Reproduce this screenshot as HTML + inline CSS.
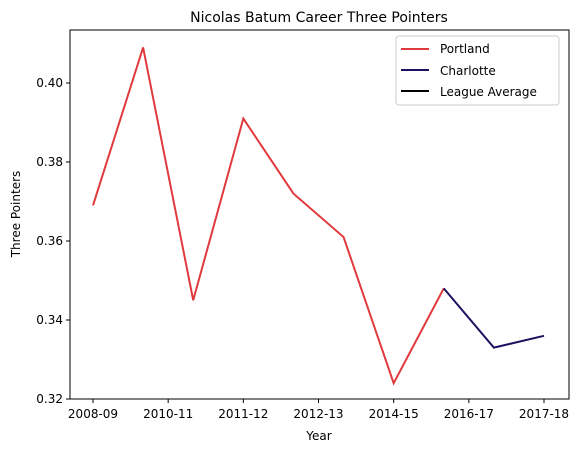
<!DOCTYPE html>
<html><head><meta charset="utf-8"><style>
body{margin:0;background:#fff;font-family:"Liberation Sans","DejaVu Sans",sans-serif;}
svg text{font-family:"DejaVu Sans","Liberation Sans",sans-serif;}
</style></head><body>
<svg id="chart" width="582" height="453" xmlns="http://www.w3.org/2000/svg">
<text x="319" y="22" font-size="14" text-anchor="middle">Nicolas Batum Career Three Pointers</text>
<g id="plot"></g>
<rect x="70" y="30" width="499" height="369" fill="none" stroke="#000" stroke-width="1"/>
<text x="319" y="440" font-size="12" text-anchor="middle">Year</text>
<text x="20" y="214" font-size="12" text-anchor="middle" transform="rotate(-90 20 214)">Three Pointers</text>
<g>
<rect x="396" y="36" width="163" height="69" fill="#fff" stroke="#ccc" rx="3"/>
<line x1="401" y1="49" x2="429" y2="49" stroke="#e03a3e" stroke-width="2"/>
<text x="440" y="53" font-size="12">Portland</text>
<line x1="401" y1="70" x2="429" y2="70" stroke="#1d1160" stroke-width="2"/>
<text x="440" y="75" font-size="12">Charlotte</text>
<line x1="401" y1="91" x2="429" y2="91" stroke="#000" stroke-width="2"/>
<text x="440" y="96" font-size="12">League Average</text>
</g>
</svg>
<script>
const seasons=["2008-09","2009-10","2010-11","2011-12","2012-13","2013-14","2014-15","2015-16","2016-17","2017-18"];
const portland=[0.369,0.409,0.345,0.391,0.372,0.361,0.324,0.348];
const charlotte=[0.348,0.333,0.336];
const charlotteStart=7;
const yTicks=[0.32,0.34,0.36,0.38,0.40];
const xTickPos=[0,1.5,3,4.5,6,7.5,9];
const xTickLabels=["2008-09","2010-11","2011-12","2012-13","2014-15","2016-17","2017-18"];
const NS="http://www.w3.org/2000/svg";
const g=document.getElementById('plot');
const x=i=>93+i*(451/(seasons.length-1));
const y=v=>399-(v-0.32)*(79/0.02);
function mk(t,a){const e=document.createElementNS(NS,t);for(const k in a)e.setAttribute(k,a[k]);g.appendChild(e);return e;}
yTicks.forEach(v=>{
 const l=mk('line',{x1:66,x2:70,y1:y(v),y2:y(v),stroke:'#000'});
 
 
 const t=mk('text',{x:63,y:y(v)+4,'font-size':12,'text-anchor':'end'});
 t.textContent=v.toFixed(2);
 
 
});
xTickPos.forEach((p,i)=>{
 const l=mk('line',{x1:x(p),x2:x(p),y1:399,y2:403,stroke:'#000'});
 
 
 const t=mk('text',{x:x(p),y:418,'font-size':12,'text-anchor':'middle'});
 t.textContent=xTickLabels[i];
 
 
});
const p1=mk('polyline',{points:portland.map((v,i)=>x(i)+','+y(v)).join(' '),fill:'none',stroke:'#e03a3e','stroke-width':2});


const p2=mk('polyline',{points:charlotte.map((v,i)=>x(i+charlotteStart)+','+y(v)).join(' '),fill:'none',stroke:'#1d1160','stroke-width':2});


</script>
</body></html>
